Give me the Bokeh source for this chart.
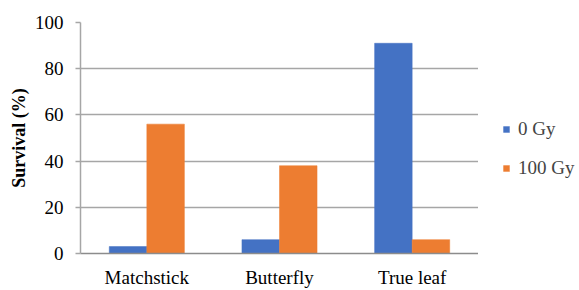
from bokeh.plotting import figure
from bokeh.models import ColumnDataSource, FactorRange, Range1d, Legend, LegendItem
from bokeh.layouts import row
from bokeh.transform import dodge
from bokeh.embed import file_html
from bokeh.resources import INLINE

categories = ["Matchstick", "Butterfly", "True leaf"]
series_names = ["0 Gy", "100 Gy"]
gy0 = [3, 6, 91]
gy100 = [56, 38, 6]
y_ticks = [0, 20, 40, 60, 80, 100]

colors = ["#4472C4", "#ED7D31"]
FONT = "Liberation Serif"

src = ColumnDataSource(data=dict(cat=categories, gy0=gy0, gy100=gy100))

p = figure(width=478, height=290, x_range=FactorRange(*categories, range_padding=0),
           y_range=Range1d(0, 100), output_backend="svg", toolbar_location=None,
           min_border_left=80, min_border_right=0, min_border_top=22, min_border_bottom=33)
p.outline_line_color = None
p.background_fill_color = "white"

bw = 0.283
r0 = p.vbar(x=dodge("cat", -bw / 2, range=p.x_range), top="gy0", width=bw, source=src,
            fill_color=colors[0], line_color=colors[0], line_alpha=0.5)
r1 = p.vbar(x=dodge("cat", bw / 2, range=p.x_range), top="gy100", width=bw, source=src,
            fill_color=colors[1], line_color=colors[1], line_alpha=0.5)

# axes
p.xgrid.grid_line_color = None
p.ygrid.grid_line_color = "#a6a6a6"
p.ygrid.grid_line_width = 1.5
p.yaxis.ticker = y_ticks
p.yaxis.axis_line_color = "#a6a6a6"
p.yaxis.axis_line_width = 1.5
p.yaxis.major_tick_line_color = "#a6a6a6"
p.yaxis.major_tick_line_width = 1.5
p.yaxis.major_tick_out = 5
p.yaxis.major_tick_in = 0
p.yaxis.minor_tick_line_color = None
p.yaxis.major_label_text_font = FONT
p.yaxis.major_label_text_font_size = "19px"
p.yaxis.major_label_text_color = "black"
p.yaxis.major_label_standoff = 12
p.yaxis.axis_label = "Survival (%)"
p.yaxis.axis_label_text_font = FONT
p.yaxis.axis_label_text_font_size = "18px"
p.yaxis.axis_label_text_font_style = "bold"
p.yaxis.axis_label_text_color = "black"
p.yaxis.axis_label_standoff = 3

p.xaxis.axis_line_color = "#8c8c8c"
p.xaxis.axis_line_width = 1.5
p.xaxis.major_tick_line_color = None
p.xaxis.major_tick_out = 0
p.xaxis.major_tick_in = 0
p.xaxis.minor_tick_line_color = None
p.xaxis.minor_tick_out = 0
p.xaxis.major_label_text_font = FONT
p.xaxis.major_label_text_font_size = "19px"
p.xaxis.major_label_text_color = "black"
p.xaxis.major_label_standoff = 13
p.xaxis.axis_label_standoff = 0

# legend panel: its renderers use the same data but are shifted far outside its range
# and have no area, so only their legend swatches show
pl = figure(width=101, height=290, x_range=FactorRange(*categories), y_range=Range1d(500, 600),
            output_backend="svg", toolbar_location=None, x_axis_location=None,
            y_axis_location=None, min_border=0)
pl.outline_line_color = None
pl.grid.grid_line_color = None
e0 = pl.vbar(x=dodge("cat", 100, range=pl.x_range), top="gy0", bottom="gy0", width=0,
             source=src, fill_color=colors[0], line_color=None)
e1 = pl.vbar(x=dodge("cat", 100, range=pl.x_range), top="gy100", bottom="gy100", width=0,
             source=src, fill_color=colors[1], line_color=None)

legend = Legend(items=[LegendItem(label=series_names[0], renderers=[e0]),
                       LegendItem(label=series_names[1], renderers=[e1])],
                location=(24, 74), orientation="vertical")
legend.glyph_width = 8
legend.glyph_height = 8
legend.label_height = 20
legend.spacing = 17
legend.padding = 0
legend.margin = 0
legend.label_standoff = 8
legend.label_text_font = FONT
legend.label_text_font_size = "19px"
legend.border_line_color = None
legend.background_fill_alpha = 0
pl.add_layout(legend, "center")

layout = row(p, pl)
open("out.html", "w").write(file_html(layout, INLINE))
